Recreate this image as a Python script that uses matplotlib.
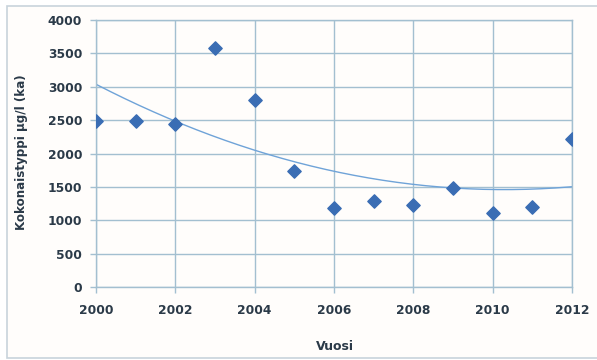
import numpy as np
import matplotlib
matplotlib.use("Agg")
import matplotlib.pyplot as plt
from matplotlib.patches import Rectangle

years = [2000, 2001, 2002, 2003, 2004, 2005, 2006, 2007, 2008, 2009, 2010, 2011, 2012]
total_nitrogen = [2490, 2490, 2440, 3580, 2800, 1740, 1180, 1290, 1230, 1480, 1110, 1200, 2220]
x_ticks = [2000, 2002, 2004, 2006, 2008, 2010, 2012]
y_ticks = [0, 500, 1000, 1500, 2000, 2500, 3000, 3500, 4000]

marker_color = "#3a6db4"
trend_color = "#6fa3d8"
grid_color = "#a3bfd0"
text_color = "#2b3a48"

fig = plt.figure(figsize=(5.97, 3.6), dpi=100)
fig.patch.set_facecolor("white")
fig.patches.append(Rectangle((0.011, 0.006), 1.2, 0.978, transform=fig.transFigure,
                             fill=True, facecolor="#fffdfb", edgecolor="#c8d3db",
                             linewidth=1.2, zorder=-10))

ax = fig.add_axes([0.1608, 0.2028, 0.7972, 0.7416])
ax.set_facecolor("#fffdfb")

# second-order polynomial trend
coef = np.polyfit(years, total_nitrogen, 2)
xs = np.linspace(years[0], years[-1], 200)
ax.plot(xs, np.polyval(coef, xs), color=trend_color, linewidth=1.0, zorder=2)

ax.scatter(years, total_nitrogen, marker="D", s=46, color=marker_color,
           edgecolors=marker_color, zorder=3)

ax.set_xlim(2000, 2012)
ax.set_ylim(0, 4000)
ax.set_xticks(x_ticks)
ax.set_yticks(y_ticks)
ax.grid(True, color=grid_color, linewidth=1.0)
ax.set_axisbelow(True)
for s in ax.spines.values():
    s.set_color(grid_color)
    s.set_linewidth(1.0)
ax.tick_params(axis="both", colors=grid_color, length=4, width=1.0,
               labelcolor=text_color, labelsize=8.8)
ax.tick_params(axis="x", pad=8)
ax.tick_params(axis="y", pad=6)
for lbl in ax.get_xticklabels() + ax.get_yticklabels():
    lbl.set_fontweight("bold")

ax.set_xlabel("Vuosi", fontsize=9, fontweight="bold", color=text_color)
ax.set_ylabel("Kokonaistyppi µg/l (ka)", fontsize=8.6, fontweight="bold",
              color=text_color)
ax.xaxis.set_label_coords((335 - 96) / 476, -(340 - 287) / 267)
ax.yaxis.set_label_coords(-(96 - 28) / 476, (287 - 152) / 267)

fig.savefig("out.png", dpi=100, facecolor=fig.get_facecolor())
